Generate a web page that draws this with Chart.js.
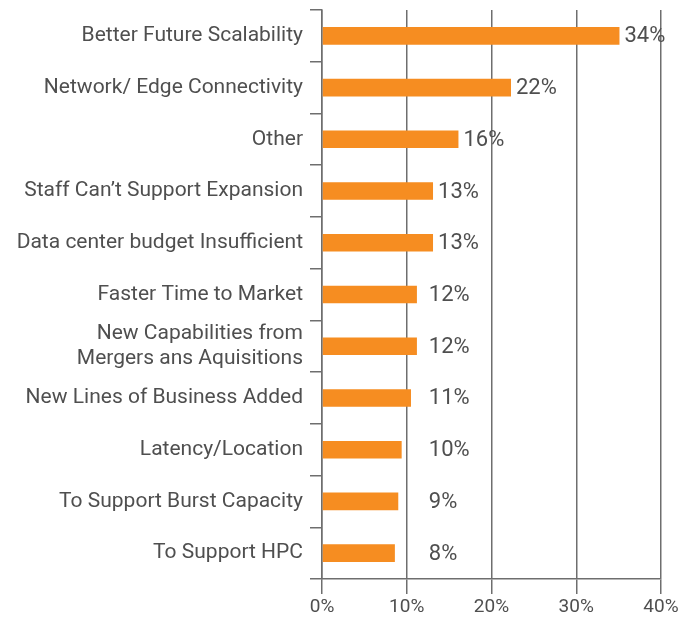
<!DOCTYPE html>
<html>
<head>
<meta charset="utf-8">
<script src="https://cdn.jsdelivr.net/npm/chart.js@4"></script>
<style>
  html, body { margin: 0; padding: 0; background: #fff; }
  #wrap { width: 693px; height: 618px; }
</style>
</head>
<body>
<div id="wrap"><canvas id="chart"></canvas></div>
<script>
const categories = [
  "Better Future Scalability",
  "Network/ Edge Connectivity",
  "Other",
  "Staff Can\u2019t Support Expansion",
  "Data center budget Insufficient",
  "Faster Time to Market",
  ["New Capabilities from", "Mergers ans Aquisitions"],
  "New Lines of Business Added",
  "Latency/Location",
  "To Support Burst Capacity",
  "To Support HPC"
]
// bar lengths as drawn in the picture (they don't match the printed labels exactly)
const values = [35.1, 22.3, 16.1, 13.1, 13.1, 11.2, 11.2, 10.5, 9.4, 9.0, 8.6]
const valueLabels = ["34%", "22%", "16%", "13%", "13%", "12%", "12%", "11%", "10%", "9%", "8%"]
const xTicks = [0, 10, 20, 30, 40]

const orange = "#f68d21"
const lineColor = "#6e6e6e"
const textColor = "#4f4f4f"
const font = "Roboto"

const valueLabelPlugin = {
  id: "valueLabels",
  afterDatasetsDraw(chart) {
    let ctx = chart.ctx
    let xScale = chart.scales.x
    let minX = xScale.getPixelForValue(12.6)
    ctx.save()
    ctx.font = "22px " + font
    ctx.fillStyle = textColor
    ctx.textAlign = "left"
    ctx.textBaseline = "middle"
    chart.getDatasetMeta(0).data.forEach((bar, i) => {
      let x = Math.max(bar.x + 5, minX)
      ctx.fillText(valueLabels[i], x, bar.y + 1)
    })
    ctx.restore()
  }
}

let ctx = document.getElementById("chart").getContext("2d")
let myChart = new Chart(ctx, {
  type: "bar",
  data: {
    labels: categories,
    datasets: [{
      data: values,
      backgroundColor: orange,
      borderWidth: 0,
      barPercentage: 0.34,
      categoryPercentage: 1
    }]
  },
  options: {
    indexAxis: "y",
    responsive: true,
    maintainAspectRatio: false,
    animation: false,
    layout: { padding: { top: 10, right: 32, left: 0, bottom: 0 } },
    plugins: {
      legend: { display: false },
      tooltip: { enabled: false }
    },
    scales: {
      x: {
        min: 0,
        max: 40,
        afterBuildTicks(scale) {
          scale.ticks = xTicks.map(v => ({ value: v }))
        },
        afterFit(scale) { scale.height = 39 },
        grid: {
          color: lineColor,
          lineWidth: 1.5,
          tickLength: 15,
          drawOnChartArea: true
        },
        border: { color: lineColor, width: 1.5 },
        ticks: {
          color: textColor,
          font: { family: font, size: 19 },
          padding: 2,
          callback: v => v + "%"
        }
      },
      y: {
        afterFit(scale) {
          scale.width = 322
          scale.paddingTop = 0
          scale.paddingBottom = 0
        },
        grid: {
          offset: true,
          drawOnChartArea: false,
          color: lineColor,
          lineWidth: 1.5,
          tickLength: 12
        },
        border: { color: lineColor, width: 1.5 },
        ticks: {
          autoSkip: false,
          color: textColor,
          font: { family: font, size: 21, lineHeight: 1.15 },
          padding: 7
        }
      }
    }
  },
  plugins: [valueLabelPlugin]
})
</script>
</body>
</html>
